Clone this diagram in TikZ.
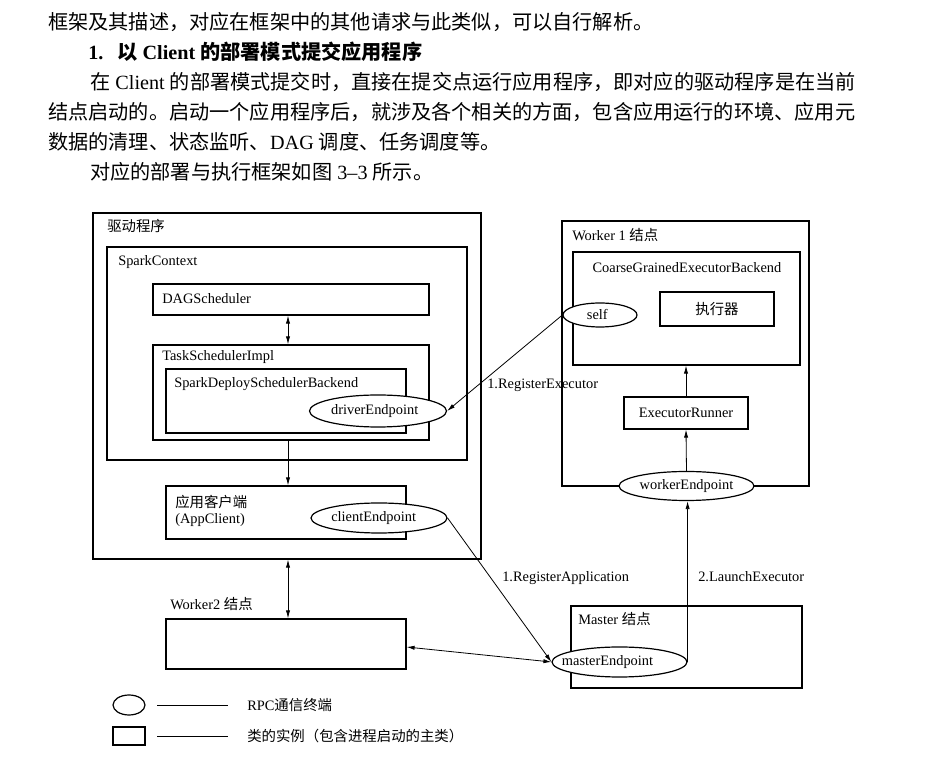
\documentclass[tikz,border=0pt]{standalone}
\usepackage{fontspec}
\setmainfont{Liberation Serif}
\newfontfamily\cjk{Noto Sans CJK SC}
\usetikzlibrary{arrows.meta,shapes.geometric,fit}
\newcommand\myDiagFont{\fontsize{10.8}{13}\selectfont}
\newcommand\myBodyFont{\fontsize{15.13}{18}\selectfont}
\tikzset{
  bx/.style={draw, line width=0.9pt, inner sep=0pt, font=\myDiagFont},
  ell/.style={ellipse, draw, line width=0.9pt, fill=white, inner sep=0pt, font=\myDiagFont},
  lbl/.style={inner sep=0pt, anchor=west, font=\myDiagFont},
  bodytxt/.style={inner sep=0pt, anchor=west, font=\myBodyFont},
  arr/.style={line width=0.6pt, -{Latex[length=6pt,width=3.2pt]}},
  darr/.style={line width=0.6pt, {Latex[length=6pt,width=3.2pt]}-{Latex[length=6pt,width=3.2pt]}},
  legline/.style={line width=0.6pt},
}
\begin{document}
\begin{tikzpicture}[x=0.75pt,y=-0.75pt]
\fill[white] (0,0) rectangle (933,762);
\useasboundingbox (0,0) rectangle (933,762);

% ---------- top text ----------
\node[bodytxt] (p1) at (48,22) {\cjk 框架及其描述，对应在框架中的其他请求与此类似，可以自行解析。};
\node[bodytxt] (h1) at (88,52) {\bfseries 1.\hspace{10.5pt}{\cjk 以} Client {\cjk 的部署模式提交应用程序}};
\node[bodytxt] (p2) at (90,82) {{\cjk 在} Client {\cjk 的部署模式提交时，直接在提交点运行应用程序，即对应的驱动程序是在当前}};
\node[bodytxt] (p3) at (48,112) {\cjk 结点启动的。启动一个应用程序后，就涉及各个相关的方面，包含应用运行的环境、应用元};
\node[bodytxt] (p4) at (48,142) {{\cjk 数据的清理、状态监听、}DAG {\cjk 调度、任务调度等。}};
\node[bodytxt] (p5) at (90,172) {{\cjk 对应的部署与执行框架如图} 3–3 {\cjk 所示。}};

% ---------- driver side ----------
\node[bx, fit={(93,213)(481,559)}] (driver) {};
\node[lbl] (driverT) at (107,226) {\cjk 驱动程序};
\node[bx, fit={(107,247)(467,460)}] (sc) {};
\node[lbl] (scT) at (118,262) {SparkContext};
\node[bx, fit={(153,284)(429,315)}] (dag) {};
\node[lbl] (dagT) at (162,299) {DAGScheduler};
\node[bx, fit={(153,345)(429,440)}] (tsi) {};
\node[lbl] (tsiT) at (162,357) {TaskSchedulerImpl};
\node[bx, fit={(166,369)(406,433)}] (sdsb) {};
\node[lbl] (sdsbT) at (174,384) {SparkDeploySchedulerBackend};
\node[bx, fit={(166,486)(406,539)}] (ac) {};
\node[lbl] (acT1) at (175,502) {\cjk 应用客户端};
\node[lbl] (acT2) at (175,520) {(AppClient)};
\node[lbl] (w2T) at (170,604) {Worker2 {\cjk 结点}};
\node[bx, fit={(166,619)(406,669)}] (w2) {};

% ---------- worker 1 ----------
\node[bx, fit={(562,221)(809,486)}] (w1) {};
\node[lbl] (w1T) at (572,235) {Worker 1 {\cjk 结点}};
\node[bx, fit={(573,252)(800,365)}] (cgeb) {};
\node[lbl, anchor=center] (cgebT) at (687,268) {CoarseGrainedExecutorBackend};
\node[bx, fit={(660,292)(774,326)}] (exec) {};
\node[lbl, anchor=center] (execT) at (717,309) {\cjk 执行器};
\node[bx, fit={(624,397)(748,429)}] (er) {};
\node[lbl, anchor=center] (erT) at (686,413) {ExecutorRunner};

% ---------- master ----------
\node[bx, fit={(571,606)(802,688)}] (master) {};
\node[lbl] (masterT) at (578,619) {Master {\cjk 结点}};

% ---------- endpoints ----------
\node[ell, minimum width=102.75pt, minimum height=24pt] (drv) at (378,411) {\hspace*{-5pt}driverEndpoint};
\node[ell, minimum width=102pt, minimum height=22.5pt] (cep) at (379,518) {\hspace*{-8pt}clientEndpoint};
\node[ell, minimum width=55.5pt, minimum height=18pt] (self) at (600,315) {\hspace*{-4pt}self};
\node[ell, minimum width=101.25pt, minimum height=21.75pt] (wep) at (686.5,486) {workerEndpoint};
\node[ell, minimum width=101.25pt, minimum height=22.5pt] (mep) at (619.5,662) {\hspace*{-18pt}masterEndpoint};

% ---------- connectors ----------
\coordinate (ax) at (288,0);
\draw[darr] (dag.south -| ax) -- (tsi.north -| ax);
\draw[arr] (tsi.south -| ax) -- (ac.north -| ax);
\draw[darr] (driver.south -| ax) -- (w2.north -| ax);
\draw[arr] (self.west) -- (drv.east);
\draw[arr] (cep.east) -- (mep.west);
\draw[darr] ([yshift=-2.25pt]w2.east) -- (mep.west);
\draw[arr] (mep.east) -- (mep.east |- wep.south);
\draw[arr] (wep.north) -- (er.south);
\draw[arr] (er.north) -- (cgeb.south -| er.north);

\node[lbl] (lRE) at (487,385) {1.RegisterExecutor};
\node[lbl] (lRA) at (502,578) {1.RegisterApplication};
\node[lbl] (lLE) at (698,577) {2.LaunchExecutor};

% ---------- legend ----------
\node[ell, minimum width=24pt, minimum height=15pt] (legE) at (129,705) {};
\node[bx, fit={(113,727)(145,745)}] (legR) {};
\coordinate (la1) at (157,705);
\coordinate (lb1) at (228,705);
\coordinate (la2) at (157,736);
\coordinate (lb2) at (228,736);
\draw[legline] (la1) -- (lb1);
\draw[legline] (la2) -- (lb2);
\node[lbl] (legET) at (247,705) {RPC{\cjk 通信终端}};
\node[lbl] (legRT) at (247,736) {\cjk 类的实例（包含进程启动的主类）};
\end{tikzpicture}
\end{document}
